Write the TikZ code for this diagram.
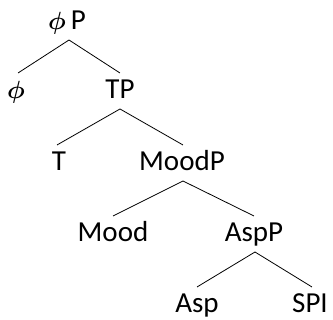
\documentclass[tikz,border=0pt]{standalone}
\usepackage{amsmath}
\usepackage{fontspec}
\setmainfont{Carlito}
\usetikzlibrary{calc}

\begin{document}
\begin{tikzpicture}[x = 1pt, y = -1pt]
  \def\apexGap{10}
  \def\leafGap{26}
  \tikzset{
    catNode/.style = {anchor = base, inner sep = 0pt, font = \fontsize{29}{34}\selectfont},
    branch/.style = {line width = 0.8pt}
  }
  \newcommand{\phiSym}{{\fontsize{38}{42}\selectfont$\boldsymbol{\phi}$}}

  \useasboundingbox (0, 0) rectangle (333, 320);

  % ------------------------
  % baselines of the labels
  % ------------------------

  \coordinate (B1) at (67, 30);
  \coordinate (B2) at (16, 99);
  \coordinate (B3) at (120, 99);
  \coordinate (B4) at (59, 171);
  \coordinate (B5) at (182, 171);
  \coordinate (B6) at (113, 242);
  \coordinate (B7) at (254, 242);
  \coordinate (B8) at (197, 313);
  \coordinate (B9) at (310, 313);

  \node[catNode] (phiP) at (B1) {\phiSym\kern 5pt P};
  \node[catNode] (phi) at (B2) {\phiSym};
  \node[catNode] (TP) at (B3) {TP};
  \node[catNode] (T) at (B4) {T};
  \node[catNode] (MoodP) at (B5) {MoodP};
  \node[catNode] (Mood) at (B6) {Mood};
  \node[catNode] (AspP) at (B7) {AspP};
  \node[catNode] (Asp) at (B8) {Asp};
  \node[catNode] (SPI) at (B9) {SPI};

  % ------------------------
  % branches
  % ------------------------

  \draw[branch] ([xshift = 2pt, yshift = -\apexGap pt]phiP.base) to ([xshift = 2pt, yshift = \leafGap pt]phi.base);
  \draw[branch] ([xshift = 2pt, yshift = -\apexGap pt]phiP.base) to ([yshift = \leafGap pt]TP.base);
  \draw[branch] ([yshift = -\apexGap pt]TP.base) to ([xshift = -2pt, yshift = \leafGap pt]T.base);
  \draw[branch] ([yshift = -\apexGap pt]TP.base) to ([xshift = 1pt, yshift = \leafGap pt]MoodP.base);
  \draw[branch] ([xshift = 1pt, yshift = -\apexGap pt]MoodP.base) to ([yshift = \leafGap pt]Mood.base);
  \draw[branch] ([xshift = 1pt, yshift = -\apexGap pt]MoodP.base) to ([yshift = \leafGap pt]AspP.base);
  \draw[branch] ([xshift = 1pt, yshift = -\apexGap pt]AspP.base) to ([yshift = \leafGap pt]Asp.base);
  \draw[branch] ([xshift = 1pt, yshift = -\apexGap pt]AspP.base) to ([xshift = 2pt, yshift = \leafGap pt]SPI.base);
\end{tikzpicture}
\end{document}
